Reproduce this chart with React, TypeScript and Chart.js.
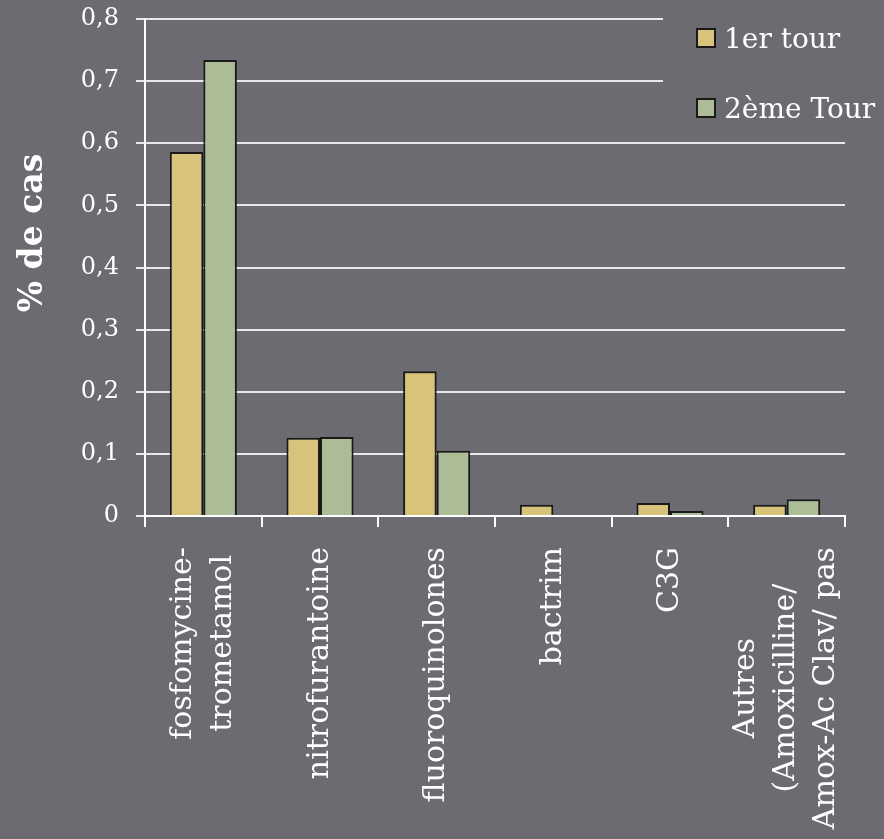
import React, { useEffect, useRef } from "react";
import { Chart, registerables } from "chart.js";

Chart.register(...registerables);

const categories: string[][] = [
  ["fosfomycine-", "trometamol"],
  ["nitrofurantoine"],
  ["fluoroquinolones"],
  ["bactrim"],
  ["C3G"],
  ["Autres", "(Amoxicilline/", "Amox-Ac Clav/ pas"],
];
const seriesNames: string[] = ["1er tour", "2ème Tour"];
const tour1: number[] = [0.586, 0.126, 0.233, 0.018, 0.021, 0.018];
const tour2: (number | null)[] = [0.734, 0.127, 0.105, null, 0.008, 0.027];
const yTitle = "% de cas";

const BG = "#6c6b71";
const GOLD = "#d7c47a";
const GREEN = "#abbc97";
const EDGE = "#1a1a1a";
const WHITE = "#ffffff";
const GRID = "#e8e8e8";
const FONT = "'DejaVu Serif', serif";

const overlayPlugin = {
  id: "overlay",
  afterDatasetsDraw(chart: any) {
    const ctx: CanvasRenderingContext2D = chart.ctx;
    const xs = chart.scales.x;
    const area = chart.chartArea;
    ctx.save();
    // legend background covering gridlines
    ctx.fillStyle = BG;
    ctx.fillRect(663, 0, 884 - 663, 135);
    // legend items
    const ds = chart.data.datasets;
    const rows = [38, 108];
    ds.forEach((d: any, i: number) => {
      const cy = rows[i];
      ctx.fillStyle = d.backgroundColor;
      ctx.fillRect(697, cy - 9, 18, 18);
      ctx.strokeStyle = EDGE;
      ctx.lineWidth = 2;
      ctx.strokeRect(697, cy - 9, 18, 18);
      ctx.fillStyle = WHITE;
      ctx.font = `28px ${FONT}`;
      ctx.textAlign = "left";
      ctx.textBaseline = "middle";
      ctx.fillText(d.label, 724, cy + 3);
    });
    // category labels (rotated, centered lines)
    ctx.font = `30px ${FONT}`;
    ctx.fillStyle = WHITE;
    const lh = 40;
    (chart.data.labels as string[][]).forEach((lines, i) => {
      const x = xs.getPixelForValue(i);
      let maxW = 0;
      lines.forEach((l) => (maxW = Math.max(maxW, ctx.measureText(l).width)));
      ctx.save();
      ctx.translate(x, area.bottom + 31 + maxW / 2);
      ctx.rotate(-Math.PI / 2);
      ctx.textAlign = "center";
      ctx.textBaseline = "middle";
      lines.forEach((l, j) => {
        ctx.fillText(l, 0, (j - (lines.length - 1) / 2) * lh);
      });
      ctx.restore();
    });
    // y title
    ctx.save();
    ctx.translate(33, 233);
    ctx.rotate(-Math.PI / 2);
    ctx.font = `bold 33px ${FONT}`;
    ctx.textAlign = "center";
    ctx.textBaseline = "middle";
    ctx.fillStyle = WHITE;
    ctx.fillText(yTitle, 0, 0);
    ctx.restore();
    ctx.restore();
  },
};

export default function App() {
  const ref = useRef<HTMLCanvasElement | null>(null);
  useEffect(() => {
    if (!ref.current) return;
    const chart = new Chart(ref.current, {
      type: "bar",
      data: {
        labels: categories as any,
        datasets: [
          {
            label: seriesNames[0],
            data: tour1,
            backgroundColor: GOLD,
            borderColor: EDGE,
            borderWidth: 2,
            borderSkipped: "start",
          },
          {
            label: seriesNames[1],
            data: tour2 as any,
            backgroundColor: GREEN,
            borderColor: EDGE,
            borderWidth: 2,
            borderSkipped: "start",
          },
        ],
      },
      options: {
        responsive: false,
        animation: false,
        layout: { padding: { top: 19, right: 39, left: 0, bottom: 0 } },
        plugins: {
          legend: { display: false },
          tooltip: { enabled: false },
          title: { display: false },
        },
        datasets: { bar: { categoryPercentage: 0.575, barPercentage: 1.0 } },
        scales: {
          x: {
            offset: true,
            grid: {
              display: true,
              offset: true,
              drawOnChartArea: false,
              drawTicks: true,
              tickLength: 11,
              color: WHITE,
              lineWidth: 2,
            },
            border: { display: true, color: WHITE, width: 2 },
            ticks: { display: false },
            afterFit: (s: any) => {
              s.height = 839 - 516;
              s.paddingLeft = 0;
              s.paddingRight = 0;
            },
          },
          y: {
            min: 0,
            max: 0.8,
            grid: {
              color: GRID,
              lineWidth: 2,
              tickLength: 9,
              drawTicks: true,
            },
            border: { display: true, color: WHITE, width: 2 },
            ticks: {
              stepSize: 0.1,
              padding: 17,
              color: WHITE,
              font: { family: FONT, size: 24 },
              callback: (v: any) => {
                const n = Number(v);
                return n === 0 ? "0" : n.toFixed(1).replace(".", ",");
              },
            },
            afterFit: (s: any) => {
              s.width = 145;
              s.paddingTop = 0;
              s.paddingBottom = 0;
            },
          },
        },
      },
      plugins: [overlayPlugin],
    });
    return () => chart.destroy();
  }, []);
  return (
    <div
      style={{
        position: "fixed",
        left: 0,
        top: 0,
        width: 884,
        height: 839,
        background: BG,
      }}
    >
      <canvas ref={ref} width={884} height={839} style={{ display: "block" }} />
    </div>
  );
}
